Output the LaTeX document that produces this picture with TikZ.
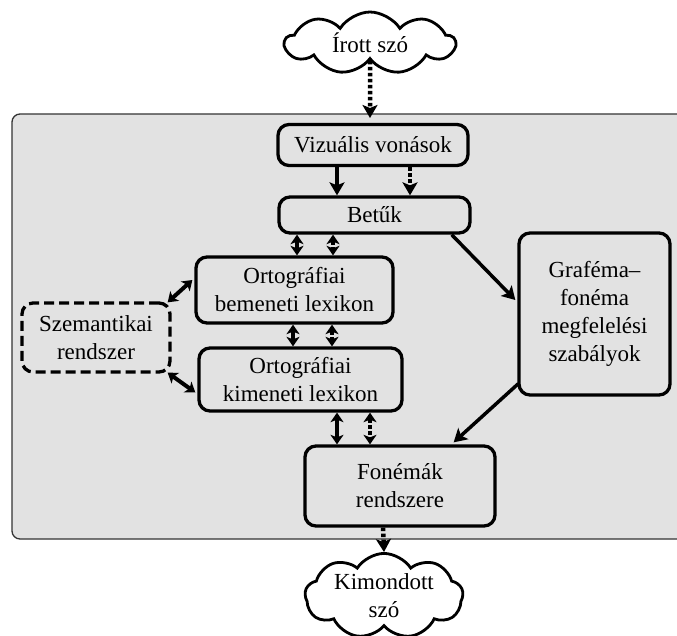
\documentclass[tikz,border=0pt]{standalone}
\usepackage{fontspec}
\setmainfont{Liberation Serif}
\usetikzlibrary{arrows.meta,shapes.symbols,calc}
\definecolor{bg}{HTML}{E2E2E2}
\tikzset{
  txt/.style={font=\fontsize{23}{28}\selectfont},
  box/.style={draw, line width=3.3pt, rounded corners=11pt, fill=bg, align=center, inner sep=0pt, txt},
  dbox/.style={box, dash pattern=on 10pt off 5pt},
  wolk/.style={cloud, cloud puffs=9, cloud puff arc=115, cloud ignores aspect, draw, line width=2.8pt, fill=white, inner sep=0pt, align=center, txt},
  sarrow/.style={line width=3.5pt, -{Stealth[length=13pt,width=15pt,inset=3pt]}},
  darrow/.style={line width=4pt, {Stealth[length=9.5pt,width=13pt,inset=2.5pt]}-{Stealth[length=9.5pt,width=13pt,inset=2.5pt]}},
  dotted/.style={dash pattern=on 3.5pt off 2.5pt},
}
\begin{document}
\begin{tikzpicture}[x=1pt,y=-1pt]
\useasboundingbox (0,0) rectangle (677,635);
% background panel
\draw[fill=bg, draw=black!80, line width=1.3pt, rounded corners=8pt] (700,114) -- (12,114) -- (12,539) -- (700,539);

% clouds
\node[wolk, minimum width=170pt, minimum height=62pt] (c1) at (370,43) {Írott szó};
\node[wolk, minimum width=158pt, minimum height=76pt] (c2) at (384,596) {Kimondott\\szó};

% boxes
\node[box, minimum width=190pt, minimum height=41pt] (vis) at (373,145) {Vizuális vonások};
\node[box, minimum width=191pt, minimum height=36pt] (bet) at (374.5,215) {Betűk};
\node[box, minimum width=197pt, minimum height=66pt] (obl) at (294.5,290) {Ortográfiai\\bemeneti lexikon};
\node[box, minimum width=203pt, minimum height=63pt] (okl) at (300.5,379.5) {Ortográfiai\\kimeneti lexikon};
\node[dbox, minimum width=148pt, minimum height=69pt] (szem) at (96,337.5) {Szemantikai\\rendszer};
\node[box, minimum width=190pt, minimum height=80pt] (fon) at (400,486) {Fonémák\\rendszere};
\node[box, minimum width=151pt, minimum height=162pt] (gf) at (594.5,314) {Graféma–\\fonéma\\megfelelési\\szabályok};

% helper coordinates
\coordinate (bgtop) at (370,118);
\path (vis.south) ++(-36,0) coordinate (v1) ++(73,0) coordinate (v2);
\path (bet.south) ++(-77.5,0) coordinate (b1) ++(36,0) coordinate (b2);
\path (obl.south) ++(-1.5,0) coordinate (o1) ++(39,0) coordinate (o2);
\path (okl.south) ++(36.5,0) coordinate (k1) ++(33,0) coordinate (k2);
\path (fon.south) ++(-17,0) coordinate (f1);

% arrows
\draw[sarrow, dotted, line width=4.5pt] (c1.south) -- (bgtop);
\draw[sarrow] (v1) -- (v1 |- bet.north);
\draw[sarrow, dotted, line width=4pt] (v2) -- (v2 |- bet.north);
\draw[darrow] (b1) -- (b1 |- obl.north);
\draw[darrow, dotted] (b2) -- (b2 |- obl.north);
\draw[darrow] (o1) -- (o1 |- okl.north);
\draw[darrow, dotted] (o2) -- (o2 |- okl.north);
\draw[darrow] (k1) -- (k1 |- fon.north);
\draw[darrow, dotted] (k2) -- (k2 |- fon.north);
\draw[darrow] ($(szem.north east)+(-4,1)$) -- ($(obl.west)+(-2,-10)$);
\draw[darrow] ($(szem.south east)+(-4,-1)$) -- ($(okl.west)+(-2,13)$);
\draw[sarrow] ($(bet.south east)+(-20,0)$) -- ($(gf.west)+(-2,-14)$);
\draw[sarrow] ($(gf.south west)+(1,-13)$) -- ($(fon.north east)+(-43,-2)$);
\draw[sarrow, dotted, line width=4.5pt] (f1) -- (c2.north);
\end{tikzpicture}
\end{document}
